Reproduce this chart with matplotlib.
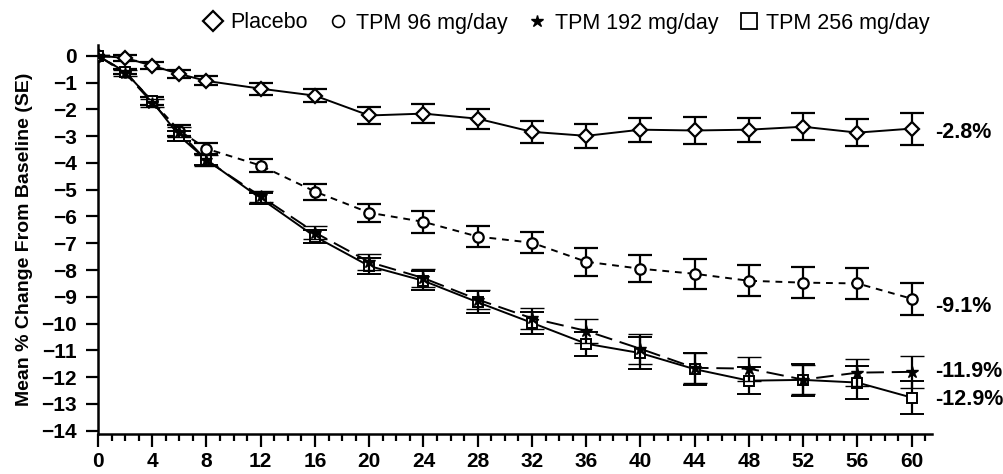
import matplotlib.pyplot as plt
from matplotlib.lines import Line2D
from matplotlib.ticker import MultipleLocator

plt.rcParams['font.family'] = ['Liberation Sans', 'DejaVu Sans']

# weeks on treatment
weeks = [0, 2, 4, 6, 8, 12, 16, 20, 24, 28, 32, 36, 40, 44, 48, 52, 56, 60]

placebo = [0, -0.08, -0.37, -0.68, -0.94, -1.23, -1.49, -2.23, -2.16, -2.35, -2.84, -2.99, -2.76, -2.79, -2.76, -2.65, -2.87, -2.72]
placebo_se = [0, 0.1, 0.12, 0.15, 0.17, 0.23, 0.23, 0.33, 0.34, 0.37, 0.4, 0.45, 0.45, 0.5, 0.45, 0.5, 0.5, 0.6]

tpm96 = [0, -0.6, -1.7, -2.8, -3.47, -4.1, -5.07, -5.86, -6.2, -6.75, -6.98, -7.69, -7.95, -8.14, -8.4, -8.47, -8.5, -9.07]
tpm96_se = [0, 0.1, 0.15, 0.2, 0.2, 0.25, 0.3, 0.33, 0.4, 0.4, 0.4, 0.52, 0.5, 0.56, 0.57, 0.57, 0.57, 0.6]

tpm192 = [0, -0.65, -1.75, -2.85, -3.9, -5.25, -6.6, -7.7, -8.3, -9.1, -9.8, -10.27, -10.94, -11.65, -11.68, -12.09, -11.83, -11.8]
tpm192_se = [0, 0.1, 0.15, 0.2, 0.2, 0.2, 0.25, 0.3, 0.35, 0.35, 0.4, 0.45, 0.55, 0.55, 0.45, 0.55, 0.5, 0.6]

tpm256 = [0, -0.6, -1.7, -3.0, -3.88, -5.33, -6.75, -7.85, -8.4, -9.2, -9.97, -10.75, -11.1, -11.7, -12.13, -12.1, -12.2, -12.76]
tpm256_se = [0, 0.1, 0.15, 0.2, 0.2, 0.2, 0.25, 0.3, 0.35, 0.4, 0.4, 0.45, 0.6, 0.6, 0.5, 0.6, 0.6, 0.63]

end_labels = ['-2.8%', '-9.1%', '-11.9%', '-12.9%']
end_label_y = [-2.87, -9.37, -11.79, -12.84]

legend_names = ['Placebo', 'TPM 96 mg/day', 'TPM 192 mg/day', 'TPM 256 mg/day']

fig = plt.figure(figsize=(10.04, 4.74), dpi=100)
ax = fig.add_axes([0.0976, 0.0844, 0.8307, 0.8206])

err_kw = dict(color='black', ecolor='black', elinewidth=1.6, capsize=8.5, capthick=2.2)

ax.errorbar(weeks, placebo, yerr=placebo_se, marker='D', markersize=7.5, mfc='white', mec='black',
            mew=1.6, linestyle='-', linewidth=1.4, zorder=3, **err_kw)
ax.errorbar(weeks, tpm96, yerr=tpm96_se, marker='o', markersize=7.5, mfc='white', mec='black',
            mew=1.6, linestyle=(0, (3.5, 3)), linewidth=1.4, zorder=3, **err_kw)
ax.errorbar(weeks, tpm192, yerr=tpm192_se, marker='*', markersize=9, mfc='black', mec='black',
            mew=1, linestyle=(0, (9, 4)), linewidth=1.4, zorder=4, **err_kw)
ax.errorbar(weeks, tpm256, yerr=tpm256_se, marker='s', markersize=7.5, mfc='white', mec='black',
            mew=1.4, linestyle='-', linewidth=1.4, zorder=3, **err_kw)

for lab, y in zip(end_labels, end_label_y):
    ax.text(61.7, y, lab, ha='left', va='center', fontsize=15.5, fontweight='bold', clip_on=False)

ax.set_xlim(0, 61.5)
ax.set_ylim(-14.12, 0.4)
ax.xaxis.set_major_locator(MultipleLocator(4))
ax.xaxis.set_minor_locator(MultipleLocator(1))
ax.set_yticks(range(-14, 1))

for lbl in ax.get_xticklabels() + ax.get_yticklabels():
    lbl.set_fontweight('bold')
ax.tick_params(axis='both', which='major', labelsize=15, width=1.6, length=9, direction='out')
ax.tick_params(axis='x', which='minor', width=1.6, length=5, direction='out')
ax.tick_params(axis='x', pad=4)
ax.tick_params(axis='y', pad=6)

ax.spines['top'].set_visible(False)
ax.spines['right'].set_visible(False)
ax.spines['left'].set_linewidth(1.8)
ax.spines['bottom'].set_linewidth(1.8)

ax.set_ylabel('Mean % Change From Baseline (SE)', fontsize=14, fontweight='bold', labelpad=6)

handles = [
    Line2D([], [], marker='D', linestyle='none', markersize=10, mfc='white', mec='black', mew=1.6),
    Line2D([], [], marker='o', linestyle='none', markersize=8.5, mfc='white', mec='black', mew=1.2),
    Line2D([], [], marker='*', linestyle='none', markersize=9, mfc='black', mec='black'),
    Line2D([], [], marker='s', linestyle='none', markersize=11, mfc='white', mec='black', mew=1.3),
]
fig.legend(handles, legend_names, loc='center right', bbox_to_anchor=(930 / 1004, 1 - 23 / 474), ncol=4,
           frameon=False, fontsize=15.5, handlelength=0.8, handletextpad=0.42, columnspacing=1.0,
           borderpad=0, borderaxespad=0)

fig.savefig('out.png', dpi=100)
